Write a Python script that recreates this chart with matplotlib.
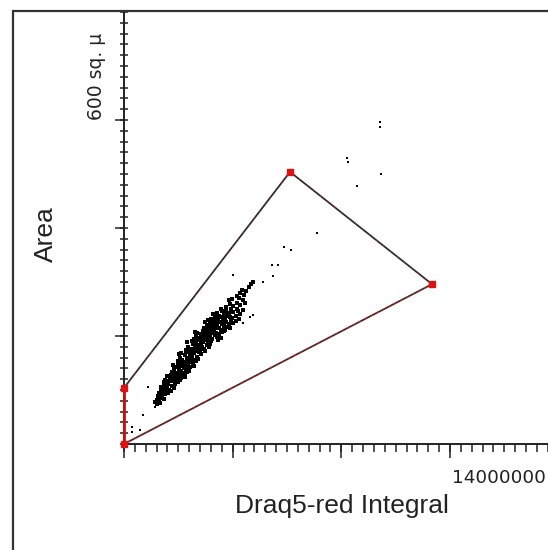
import matplotlib
matplotlib.use("Agg")
import matplotlib.pyplot as plt
from matplotlib.patches import Rectangle
from matplotlib.ticker import FixedLocator

plt.rcParams['font.family'] = ['Liberation Sans', 'DejaVu Sans']

# ---- data (x in millions of integral units, y in sq. micron) ----
cell_x = [
    1.35, 1.42, 1.50, 1.58, 1.40, 1.62, 1.48, 1.70, 1.55, 1.78,
    1.52, 1.60, 1.68, 1.75, 1.85, 1.58, 1.95, 2.05, 1.72, 1.66, 1.90, 2.15, 1.80, 2.00,
    1.70, 1.78, 1.88, 1.96, 2.06, 2.15, 2.25, 2.35, 2.45, 1.85, 2.02, 2.55, 2.20, 2.30, 1.92, 2.40, 2.12, 2.62,
    2.05, 2.15, 2.25, 2.35, 2.45, 2.55, 2.65, 2.75, 2.85, 2.12, 2.30, 2.50, 2.70, 2.95, 2.20, 2.40, 2.60, 2.80, 3.00,
    2.30, 2.40, 2.50, 2.62, 2.72, 2.82, 2.92, 3.02, 3.12, 3.22, 2.45, 2.58, 2.78, 2.98, 3.30, 2.36, 2.68, 3.10, 2.88, 3.18,
    2.65, 2.75, 2.85, 2.95, 2.70, 2.90, 3.05,
    3.25, 3.35, 3.45, 3.55, 3.65, 3.40, 3.60, 3.30, 3.50, 3.70, 3.20, 3.15, 3.75, 3.05,
    3.00, 3.10, 3.20, 3.15, 3.30, 3.05, 3.40, 3.25,
    3.60, 3.70, 3.80, 3.90, 4.00, 3.75, 3.85, 3.95, 4.10, 4.20, 3.65, 4.05, 3.55, 4.30, 3.50, 4.15,
    3.45, 3.55, 3.50, 3.62, 3.70, 3.60,
    3.90, 4.00, 4.10, 4.20, 4.30, 4.40, 4.50, 4.60, 4.05, 4.25, 4.15, 4.35, 4.45, 4.70, 3.95, 4.55, 4.80,
    3.90, 4.00, 4.10, 4.20, 4.30, 4.40, 4.50, 4.60, 4.70, 4.80, 4.90, 5.00, 4.35, 4.65, 4.15, 4.85, 5.10, 4.55, 4.25, 4.95,
    4.40, 4.55, 4.70, 4.85, 5.00, 5.10, 4.65, 4.95, 5.20, 4.50,
    4.85, 5.00, 5.15, 5.25, 5.35, 5.45, 5.05, 5.55,
    2.10, 2.28, 2.48, 2.58, 2.68, 2.78, 2.90, 3.00, 3.12, 3.28, 3.38, 3.48, 3.58, 3.72, 3.82, 3.92, 4.02, 4.12, 4.22, 4.32,
    3.42, 3.52, 3.68, 3.78, 3.88, 2.38, 2.22, 2.52, 2.62, 2.74, 2.84, 2.96, 3.08, 3.18, 3.32, 3.46, 3.58, 3.74, 3.84, 4.44,
]
cell_y = [
    78, 82, 80, 86, 74, 90, 88, 84, 76, 92,
    95, 98, 102, 96, 104, 106, 100, 108, 110, 92, 94, 104, 100, 98,
    114, 118, 112, 120, 116, 124, 118, 126, 122, 126, 128, 128, 112, 114, 116, 118, 130, 124,
    134, 138, 132, 140, 136, 144, 138, 146, 142, 146, 148, 150, 134, 148, 142, 144, 132, 136, 144,
    154, 160, 156, 164, 158, 166, 160, 168, 162, 170, 168, 152, 152, 156, 166, 166, 170, 154, 170, 158,
    174, 180, 176, 186, 188, 190, 182,
    174, 180, 176, 184, 180, 188, 190, 186, 172, 186, 182, 176, 190, 172,
    194, 200, 196, 206, 204, 208, 210, 192,
    194, 198, 194, 202, 198, 206, 210, 206, 204, 208, 202, 192, 198, 210, 192, 196,
    214, 220, 226, 212, 224, 230,
    214, 218, 214, 222, 218, 226, 222, 228, 226, 230, 212, 212, 216, 224, 222, 214, 228,
    236, 242, 238, 246, 240, 248, 242, 250, 244, 238, 246, 240, 234, 234, 250, 250, 248, 236, 232, 232,
    254, 260, 256, 262, 258, 266, 268, 270, 262, 266,
    274, 280, 276, 284, 290, 296, 286, 300,
    120, 128, 132, 140, 148, 156, 164, 172, 178, 184, 192, 196, 206, 212, 218, 228, 234, 226, 236, 244,
    200, 204, 216, 222, 230, 134, 126, 146, 152, 160, 168, 176, 188, 194, 198, 208, 214, 232, 240, 238,
]

stray_x = [1.03, 0.82, 1.33, 0.34, 0.69, 0.34, 4.68, 6.40, 6.36, 6.61, 6.87, 7.17,
           8.29, 5.97, 5.54, 5.41, 5.11, 10.01, 11.04, 9.58, 9.62, 10.99, 10.99]
stray_y = [106, 54, 68, 32, 26, 22, 313, 311, 332, 332, 365, 359,
           391, 300, 239, 235, 224, 478, 500, 530, 522, 596, 587]

gate_x = [0.0, 0.0, 7.13, 13.23, 0.0]
gate_y = [0.0, 104, 504, 296, 0.0]

x_major = [0, 14 / 3, 28 / 3, 14]
y_major = [200, 400, 600]

# ---- figure ----
W, H = 548, 550
fig = plt.figure(figsize=(W / 100, H / 100), dpi=100)
ax = fig.add_axes([124 / W, (H - 444) / H, (W - 124) / W, (444 - 11) / H])
ax.set_xlim(0, 18.21)
ax.set_ylim(0, 802)

for s in ('top', 'right'):
    ax.spines[s].set_visible(False)
for s in ('left', 'bottom'):
    ax.spines[s].set_linewidth(1.4)
    ax.spines[s].set_color('#222222')

# ticks
ax.xaxis.set_major_locator(FixedLocator(x_major))
ax.set_xticklabels([''] * len(x_major))
ax.xaxis.set_minor_locator(FixedLocator([i * 14 / 30 for i in range(40)]))
ax.xaxis.remove_overlapping_locs = False
ax.tick_params(axis='x', which='major', direction='out', length=10, width=1.1, color='#222222')
ax.tick_params(axis='x', which='minor', direction='out', length=6, width=1.1, color='#222222')

ax.yaxis.set_major_locator(FixedLocator(y_major))
ax.set_yticklabels([''] * len(y_major))
ax.yaxis.set_minor_locator(FixedLocator([i * 20 for i in range(41)]))
ax.yaxis.remove_overlapping_locs = False
ax.tick_params(axis='y', which='major', direction='out', length=6.5, width=1.1, color='#222222')
ax.tick_params(axis='y', which='minor', direction='inout', length=6, width=1.1, color='#222222')

# gate polygon
ax.plot(gate_x[1:4], gate_y[1:4], color='#2e2e2e', lw=1.3, zorder=3, clip_on=False)
ax.plot(gate_x[1:4], gate_y[1:4], color='#cc2222', lw=0.8, dashes=(1, 7), zorder=3, clip_on=False)
ax.plot(gate_x[3:5], gate_y[3:5], color='#4a2a2a', lw=1.3, zorder=3, clip_on=False)
ax.plot(gate_x[3:5], gate_y[3:5], color='#cc2222', lw=0.8, dashes=(2, 4), zorder=3, clip_on=False)
ax.plot(gate_x[0:2], gate_y[0:2], color='#cc1111', lw=2.0, zorder=4, clip_on=False)
ax.plot(gate_x[:4], gate_y[:4], 's', color='#dd1111', ms=5, mec='#dd1111', zorder=5, clip_on=False)

# events
ax.scatter(cell_x, cell_y, s=6.5, marker='s', color='black', linewidths=0, zorder=2)
ax.scatter(stray_x, stray_y, s=3.5, marker='s', color='black', linewidths=0, zorder=2)

# texts
ax.text(-28 / 424, 600, '600 sq. \u03bc', rotation=90, ha='center', va='bottom',
        fontsize=13.5, family=['DejaVu Sans'], color='#222222', transform=ax.get_yaxis_transform())
fig.text(452 / W, (H - 483) / H, '14000000', ha='left', va='baseline', fontsize=13.2,
         family=['DejaVu Sans'], color='#222222')
fig.text(342 / W, (H - 513) / H, 'Draq5-red Integral', ha='center', va='baseline', fontsize=19, color='#222222')
fig.text(46 / W, 1 - 234 / H, 'Area', rotation=90, ha='center', va='center', fontsize=19, color='#222222')

# outer frame
fig.add_artist(Rectangle((13 / W, -0.2), 2.0, 1.2 - 11 / H, transform=fig.transFigure,
                         fill=False, lw=1.6, ec='#333333'))

fig.savefig('out.png', dpi=100)
